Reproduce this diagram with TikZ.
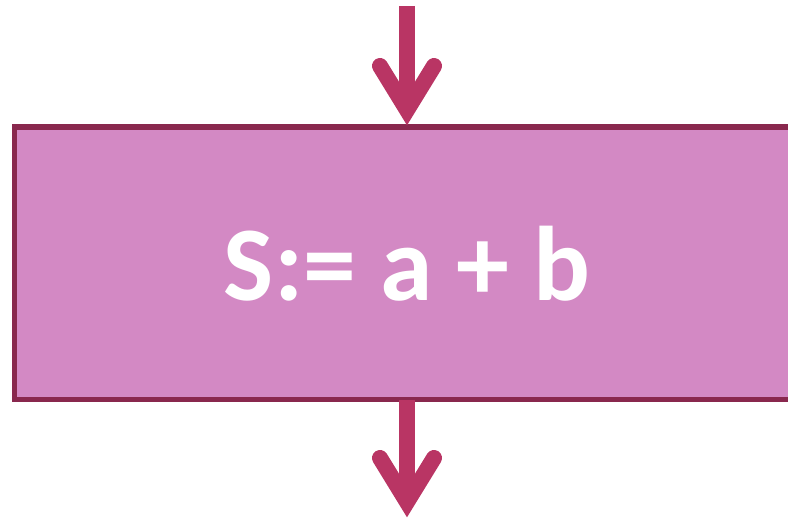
\documentclass[tikz,border=0pt]{standalone}
\usepackage{fontspec}
\setmainfont{Carlito}
\usetikzlibrary{positioning}

\definecolor{flowred}{RGB}{185,53,100}
\definecolor{boxfill}{RGB}{211,137,196}
\definecolor{boxline}{RGB}{137,40,78}

\tikzset{
    procbox/.style={draw=boxline, fill=boxfill, line width=5pt,
        minimum width=785pt, minimum height=272.5pt, inner sep=0pt, outer sep=0pt,
        text=white, font=\fontsize{106}{106}\selectfont\bfseries},
    flow/.style={draw=flowred, line width=16pt, line cap=butt},
    barb/.style={draw=flowred, line width=16pt, line cap=round, line join=miter}
}

\begin{document}
\begin{tikzpicture}[x=1pt, y=-1pt]
    \useasboundingbox (0,0) rectangle (788,519);

    % Process box
    \node[procbox] (sum) at (407,263.25) {S:= a + b};

    % Incoming arrow
    \coordinate (in) at (407,6);
    \draw[flow] (in) -- ([yshift=17pt]sum.north);
    \draw[barb] ([xshift=-27pt, yshift=61pt]sum.north) -- ([yshift=17pt]sum.north)
        -- ([xshift=27pt, yshift=61pt]sum.north);

    % Outgoing arrow
    \coordinate (out) at (407,518);
    \draw[flow] (sum.south) -- ([yshift=16pt]out);
    \draw[barb] ([xshift=-27pt, yshift=60pt]out) -- ([yshift=16pt]out)
        -- ([xshift=27pt, yshift=60pt]out);
\end{tikzpicture}
\end{document}
